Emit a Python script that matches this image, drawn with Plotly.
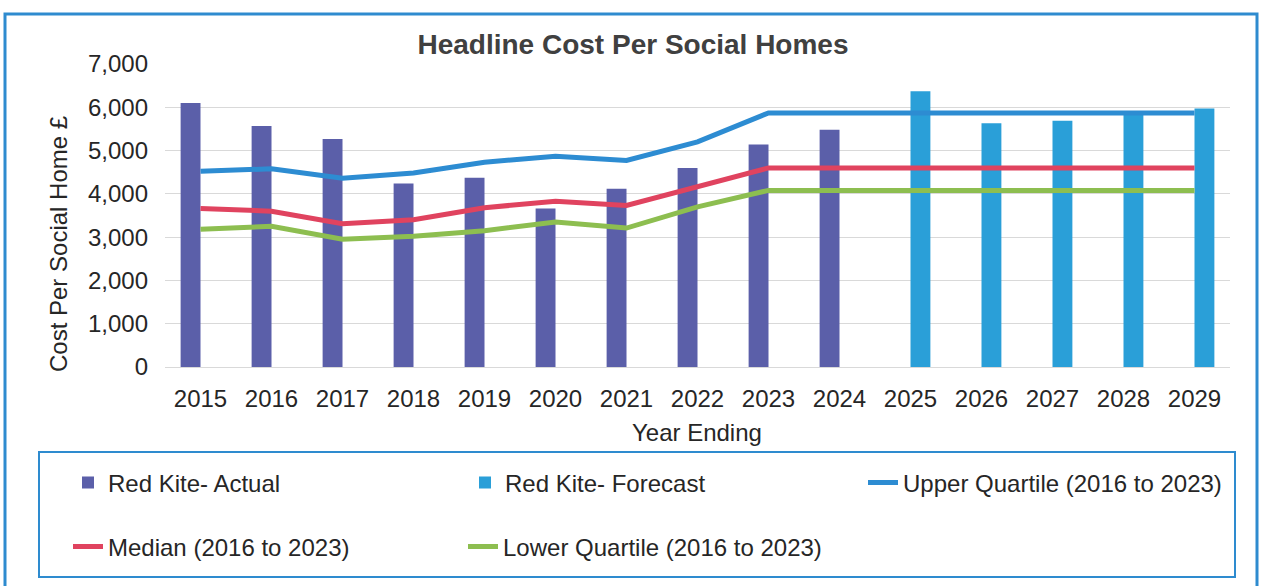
import plotly.graph_objects as go

years = [str(y) for y in range(2015, 2030)]
actual_years = years[:10]
actual_vals = [6100, 5570, 5270, 4240, 4370, 3660, 4120, 4600, 5140, 5480]
forecast_years = years[10:]
forecast_vals = [6370, 5630, 5690, 5870, 5970]
upper_q = [4520, 4580, 4360, 4480, 4730, 4870, 4770, 5200, 5870, 5870, 5870, 5870, 5870, 5870, 5870]
median = [3660, 3600, 3310, 3400, 3680, 3830, 3730, 4150, 4600, 4600, 4600, 4600, 4600, 4600, 4600]
lower_q = [3180, 3250, 2950, 3020, 3150, 3350, 3210, 3700, 4080, 4080, 4080, 4080, 4080, 4080, 4080]
y_ticks = [0, 1000, 2000, 3000, 4000, 5000, 6000, 7000]

W, H = 1261, 586
L, R, T, B = 165, 1230, 64, 367
pw, ph = R - L, B - T


def px(x):
    return (x - L) / pw


def py(y):
    return (B - y) / ph


FONT = "Liberation Sans, Arial, sans-serif"
TXT = "#262626"
BAR_W = 0.28

fig = go.Figure()
fig.add_trace(go.Bar(x=actual_years, y=actual_vals, name="Red Kite- Actual",
                     width=BAR_W, offset=-BAR_W,
                     marker=dict(color="#5B5FA9", line=dict(width=0)), legend="legend"))
fig.add_trace(go.Bar(x=forecast_years, y=forecast_vals, name="Red Kite- Forecast",
                     width=BAR_W, offset=0,
                     marker=dict(color="#2A9FD8", line=dict(width=0)), legend="legend2"))
fig.add_trace(go.Scatter(x=years, y=upper_q, name="Upper Quartile (2016 to 2023)", mode="lines",
                         line=dict(color="#2D8CD2", width=5), legend="legend3"))
fig.add_trace(go.Scatter(x=years, y=median, name="Median (2016 to 2023)", mode="lines",
                         line=dict(color="#E0435F", width=5), legend="legend4"))
fig.add_trace(go.Scatter(x=years, y=lower_q, name="Lower Quartile (2016 to 2023)", mode="lines",
                         line=dict(color="#8DBE50", width=5), legend="legend5"))

leg_common = dict(bgcolor="rgba(0,0,0,0)", borderwidth=0, orientation="h",
                  xanchor="left", yanchor="middle", font=dict(family=FONT, size=24, color=TXT))
row1, row2 = py(483), py(547)

fig.update_layout(
    width=W, height=H,
    margin=dict(l=L, r=W - R, t=T, b=H - B, autoexpand=False),
    paper_bgcolor="white", plot_bgcolor="white",
    barmode="overlay",
    font=dict(family=FONT, size=24, color=TXT),
    title=dict(text="Headline Cost Per Social Homes", x=px(633), xanchor="center",
               xref="paper", y=1 - 44 / H, yanchor="middle", yref="container",
               font=dict(family=FONT, size=28, color="#404040", weight="bold")),
    xaxis=dict(type="category", categoryorder="array", categoryarray=years,
               range=[-0.5, 14.5],
               showgrid=False, showline=True, linecolor="#d9d9d9", linewidth=1,
               ticks="", ticklabelstandoff=10,
               tickfont=dict(family=FONT, size=24, color=TXT)),
    yaxis=dict(range=[0, 7000], tickvals=y_ticks, tickformat=",d",
               showgrid=True, gridcolor="#d9d9d9", gridwidth=1,
               zeroline=False, showline=False, ticks="", ticklabelstandoff=16,
               tickfont=dict(family=FONT, size=24, color=TXT)),
    legend=dict(leg_common, x=px(68), y=row1),
    legend2=dict(leg_common, x=px(465), y=row1),
    legend3=dict(leg_common, x=px(863), y=row1),
    legend4=dict(leg_common, x=px(68), y=row2),
    legend5=dict(leg_common, x=px(463), y=row2),
    showlegend=True,
)

# axis titles
fig.add_annotation(text="Cost Per Social Home £", xref="paper", yref="paper",
                   x=px(58), y=py(244), textangle=-90, showarrow=False,
                   xanchor="center", yanchor="middle",
                   font=dict(family=FONT, size=24, color=TXT))
fig.add_annotation(text="Year Ending", xref="paper", yref="paper",
                   x=px(697), y=py(432), showarrow=False,
                   xanchor="center", yanchor="middle",
                   font=dict(family=FONT, size=24, color=TXT))

# outer chart border and legend box
fig.add_shape(type="rect", xref="paper", yref="paper",
              x0=px(5), x1=px(1257), y0=py(620), y1=py(14),
              line=dict(color="#2E8BCF", width=3), fillcolor="rgba(0,0,0,0)", layer="below")
fig.add_shape(type="rect", xref="paper", yref="paper",
              x0=px(39), x1=px(1235), y0=py(577), y1=py(452),
              line=dict(color="#2E8BCF", width=2), fillcolor="rgba(0,0,0,0)", layer="below")

fig.write_html("out.html")
